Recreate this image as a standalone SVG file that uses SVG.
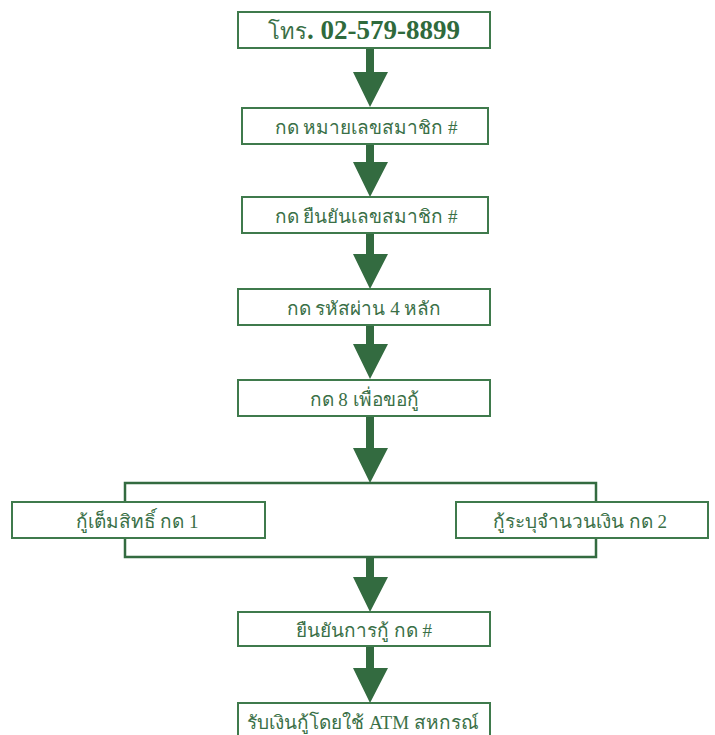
<svg xmlns="http://www.w3.org/2000/svg" width="715" height="735" viewBox="0 0 715 735">
<defs>
<style>
.box{fill:#ffffff;stroke:#3f7a4c;stroke-width:2}
.ln{fill:none;stroke:#336b40;stroke-width:2.5}
.arr{fill:#336b40}
.t{font-family:"Liberation Serif","DejaVu Serif",serif;font-size:19px;fill:#3a7047;text-anchor:middle}
.tb{font-family:"Liberation Serif","DejaVu Serif",serif;font-size:27px;font-weight:bold;fill:#2f6a3c}
</style>
</defs>
<rect width="715" height="735" fill="#ffffff"/>
<g id="connectors">
<polygon class="arr" points="366,48 374,48 374,72 388,72 370,107 353,72 366,72"/>
<polygon class="arr" points="366,144 374,144 374,162 388,162 370,197 353,162 366,162"/>
<polygon class="arr" points="366,233 374,233 374,254 388,254 370,289 353,254 366,254"/>
<polygon class="arr" points="366,325 374,325 374,344 388,344 370,379 353,344 366,344"/>
<polygon class="arr" points="366,416 374,416 374,448 388,448 370,483 353,448 366,448"/>
<path class="ln" d="M125,557 V483 H596 V557 Z"/>
<polygon class="arr" points="366,557 374,557 374,577 388,577 370,612 353,577 366,577"/>
<polygon class="arr" points="366,646 374,646 374,668 388,668 370,703 353,668 366,668"/>
</g>
<g id="n1"><rect class="box" x="238" y="12" width="252" height="36"/>
<text x="364" y="39" text-anchor="middle"><tspan class="t" style="font-size:22px">โทร</tspan><tspan class="tb">. 02-579-8899</tspan></text></g>
<g id="n2"><rect class="box" x="242" y="108" width="246" height="36"/><text class="t" x="366" y="134">กด หมายเลขสมาชิก #</text></g>
<g id="n3"><rect class="box" x="242" y="197" width="246" height="36"/><text class="t" x="366" y="223">กด ยืนยันเลขสมาชิก #</text></g>
<g id="n4"><rect class="box" x="238" y="289" width="252" height="36"/><text class="t" x="364" y="315">กด รหัสผ่าน 4 หลัก</text></g>
<g id="n5"><rect class="box" x="238" y="380" width="252" height="36"/><text class="t" x="364" y="406">กด 8 เพื่อขอกู้</text></g>
<g id="n6"><rect class="box" x="12" y="502" width="253" height="36"/><text class="t" x="137" y="528">กู้เต็มสิทธิ์ กด 1</text></g>
<g id="n7"><rect class="box" x="456" y="502" width="252" height="36"/><text class="t" x="580" y="528">กู้ระบุจำนวนเงิน กด 2</text></g>
<g id="n8"><rect class="box" x="238" y="612" width="252" height="34"/><text class="t" x="364" y="637">ยืนยันการกู้ กด #</text></g>
<g id="n9"><rect class="box" x="238" y="703" width="252" height="40"/><text class="t" x="363" y="729">รับเงินกู้โดยใช้ ATM สหกรณ์</text></g>
</svg>
